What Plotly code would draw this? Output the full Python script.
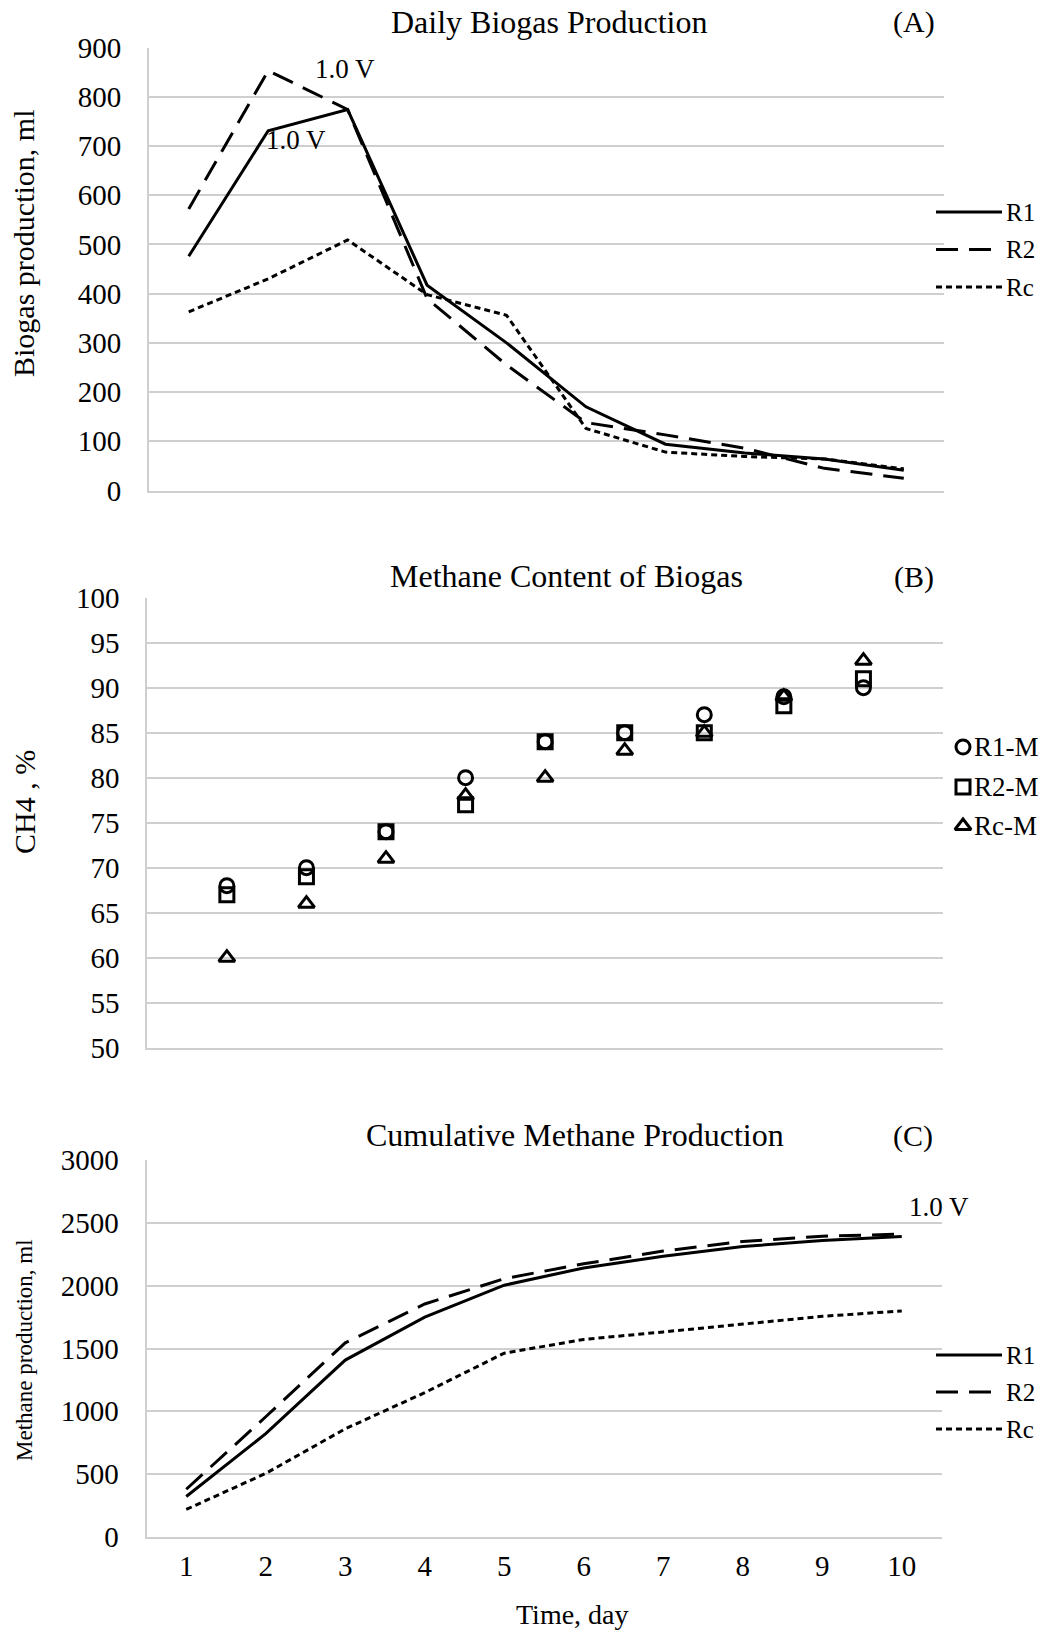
import plotly.graph_objects as go

W, H = 1048, 1631

# ---------------- data ----------------
days = [1, 2, 3, 4, 5, 6, 7, 8, 9, 10]
biogas_R1 = [476, 731, 774, 417, 300, 170, 94, 76, 64, 41]
biogas_R2 = [572, 853, 774, 390, 255, 138, 113, 86, 45, 25]
biogas_Rc = [363, 430, 509, 398, 356, 126, 78, 69, 64, 44]

sample_days = [1, 2, 3, 4, 5, 6, 7, 8, 9]
methane_R1 = [68, 70, 74, 80, 84, 85, 87, 89, 90]
methane_R2 = [67, 69, 74, 77, 84, 85, 85, 88, 91]
methane_Rc = [60, 66, 71, 78, 80, 83, 85, 89, 93]

cum_R1 = [322, 822, 1408, 1750, 2004, 2141, 2234, 2311, 2360, 2391]
cum_R2 = [380, 957, 1545, 1854, 2056, 2174, 2275, 2352, 2393, 2410]
cum_Rc = [219, 506, 861, 1149, 1463, 1572, 1632, 1695, 1756, 1799]

line_names = ["R1", "R2", "Rc"]
marker_names = ["R1-M", "R2-M", "Rc-M"]
x_ticks = [str(d) for d in days]

# ---------------- styles ----------------
FONT = "Liberation Serif"
GRID = "#CFCFCF"
dashes = {"R1": "solid", "R2": "22px,11px", "Rc": "6px,4px"}
symbols = {"R1-M": "circle-open", "R2-M": "square-open", "Rc-M": "triangle-up-open"}


def px(x):
    return x / W


def py(y):
    return 1 - y / H


fig = go.Figure()

# Panel A
for name, vals in zip(line_names, [biogas_R1, biogas_R2, biogas_Rc]):
    fig.add_trace(go.Scatter(x=days, y=vals, mode="lines", name=name, showlegend=False,
                             line=dict(color="black", width=3, dash=dashes[name]),
                             xaxis="x", yaxis="y"))
# Panel B
for name, vals in zip(marker_names, [methane_R1, methane_R2, methane_Rc]):
    fig.add_trace(go.Scatter(x=sample_days, y=vals, mode="markers", name=name, showlegend=False,
                             marker=dict(symbol=symbols[name], size=14, color="black",
                                         line=dict(color="black", width=3)),
                             xaxis="x2", yaxis="y2"))
# Panel C
for name, vals in zip(line_names, [cum_R1, cum_R2, cum_Rc]):
    fig.add_trace(go.Scatter(x=days, y=vals, mode="lines", name=name, showlegend=False,
                             line=dict(color="black", width=3, dash=dashes[name]),
                             xaxis="x3", yaxis="y3"))

yax_common = dict(showgrid=True, gridcolor=GRID, gridwidth=2, zeroline=False,
                  showline=True, linecolor=GRID, linewidth=2, ticks="", automargin=False,
                  tickfont=dict(family=FONT, size=29, color="black"),
                  ticklabelstandoff=20)
xax_common = dict(showgrid=False, zeroline=False, showline=True, linecolor=GRID,
                  linewidth=2, ticks="", automargin=False)

fig.update_layout(
    width=W, height=H,
    margin=dict(l=0, r=0, t=0, b=0, pad=0, autoexpand=False),
    paper_bgcolor="white", plot_bgcolor="rgba(0,0,0,0)",
    font=dict(family=FONT, color="black"),
    showlegend=False,
    xaxis=dict(domain=[px(149), px(943.5)], range=[0.5, 10.5], showticklabels=False,
               anchor="y", **xax_common),
    yaxis=dict(domain=[py(490.5), py(47.5)], range=[0, 900], dtick=100, anchor="x",
               **yax_common),
    xaxis2=dict(domain=[px(147.3), px(943)], range=[0, 10], showticklabels=False,
                anchor="y2", **xax_common),
    yaxis2=dict(domain=[py(1047.7), py(597.7)], range=[50, 100], dtick=5, anchor="x2",
                **yax_common),
    xaxis3=dict(domain=[px(146.5), px(941.5)], range=[0.5, 10.5], anchor="y3",
                tickmode="array", tickvals=days, ticktext=x_ticks,
                tickfont=dict(family=FONT, size=29, color="black"),
                ticklabelstandoff=2, **xax_common),
    yaxis3=dict(domain=[py(1537), py(1160)], range=[0, 3000], dtick=500, anchor="x3",
                **yax_common),
)

ann = []


def text(x, y, s, size, angle=0, xanchor="center"):
    ann.append(dict(x=px(x), y=py(y), xref="paper", yref="paper", text=s, showarrow=False,
                    font=dict(family=FONT, size=size, color="black"), textangle=angle,
                    xanchor=xanchor, yanchor="middle"))


# titles
text(549, 22, "Daily Biogas Production", 32)
text(914, 22, "(A)", 30)
text(566, 576, "Methane Content of Biogas", 32)
text(914, 577, "(B)", 30)
text(575, 1135, "Cumulative Methane Production", 32)
text(913, 1136, "(C)", 30)

# axis titles
text(24, 244, "Biogas production, ml", 30, angle=-90)
text(24, 802, "CH4 , %", 30, angle=-90)
text(24, 1350, "Methane production, ml", 23, angle=-90)
text(572, 1614, "Time, day", 28)

# voltage annotations
text(345, 69, "1.0 V", 27)
text(296, 140, "1.0 V", 27)
text(939, 1207, "1.0 V", 27)

shapes = []
# legends for line panels
for base_y, gap in [(212, 37.5), (1355, 37)]:
    for i, name in enumerate(line_names):
        yy = base_y + i * gap
        shapes.append(dict(type="line", xref="paper", yref="paper",
                           x0=px(936), x1=px(1002), y0=py(yy), y1=py(yy),
                           line=dict(color="black", width=3, dash=dashes[name])))
        text(1004, yy, name, 25, xanchor="left")

# legend for marker panel (legend symbols drawn on a transparent overlay in paper space)
leg_y = [747, 787, 826]
fig.add_trace(go.Scatter(x=[px(963)] * 3, y=[py(v) for v in leg_y], mode="markers",
                         xaxis="x4", yaxis="y4", showlegend=False, hoverinfo="skip",
                         cliponaxis=False,
                         marker=dict(symbol=[symbols[n] for n in marker_names], size=14,
                                     color="black", line=dict(color="black", width=3))))
fig.update_layout(
    xaxis4=dict(domain=[0, 1], range=[0, 1], visible=False, anchor="y4", fixedrange=True,
                automargin=False),
    yaxis4=dict(domain=[0, 1], range=[0, 1], visible=False, anchor="x4", fixedrange=True,
                automargin=False),
)
for yy, name in zip(leg_y, marker_names):
    text(972, yy, name, 27, xanchor="left")

fig.update_layout(annotations=ann, shapes=shapes)
fig.write_html("out.html")
